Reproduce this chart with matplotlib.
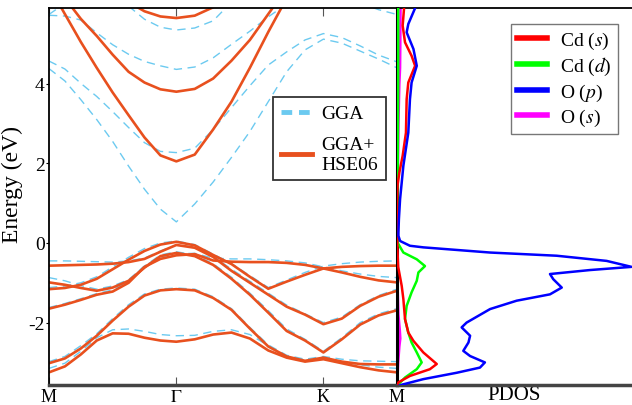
import numpy as np
import matplotlib.pyplot as plt
from matplotlib.lines import Line2D

plt.rcParams['font.family'] = 'serif'
plt.rcParams['font.serif'] = ['Liberation Serif', 'DejaVu Serif']
plt.rcParams['mathtext.fontset'] = 'stix'

nan = np.nan
# high-symmetry points along the path M-Gamma-K-M
hs_k = [0.0, 0.866, 1.866, 2.366]
hs_labels = ['M', r'$\Gamma$', 'K', 'M']
n_seg = [9, 9, 5]  # sample points per segment

# HSE06 bands (eV), one value per k sample
hse_bands = [
    [-1.16, -1.13, -1.05, -0.90, -0.66, -0.42, -0.20, -0.04, 0.03, -0.06, -0.30, -0.53, -0.85, -1.15, -0.97, -0.80, -0.64, -0.60, -0.58, -0.57, -0.57],
    [-0.57, -0.56, -0.55, -0.54, -0.52, -0.48, -0.40, -0.22, -0.05, -0.12, -0.35, -0.70, -1.00, -1.30, -1.60, -1.80, -2.04, -1.90, -1.58, -1.35, -1.20],
    [-0.99, -1.05, -1.13, -1.20, -1.12, -0.95, -0.62, -0.33, -0.25, -0.33, -0.55, -0.90, -1.30, -1.75, -2.21, -2.45, -2.75, -2.42, -2.05, -1.82, -1.69],
    [-1.65, -1.55, -1.43, -1.30, -1.22, -1.00, -0.60, -0.40, -0.31, -0.28, -0.44, -0.47, -0.48, -0.48, -0.50, -0.55, -0.64, -0.74, -0.85, -0.94, -0.99],
    [-3.02, -2.90, -2.65, -2.33, -1.95, -1.60, -1.32, -1.19, -1.16, -1.19, -1.38, -1.68, -2.15, -2.60, -2.85, -2.96, -2.88, -2.98, -3.04, -3.05, -3.05],
    [-3.25, -3.10, -2.80, -2.45, -2.27, -2.28, -2.38, -2.45, -2.48, -2.42, -2.30, -2.25, -2.40, -2.70, -2.88, -2.98, -2.92, -3.02, -3.12, -3.20, -3.25],
    [6.45, 5.75, 5.05, 4.40, 3.78, 3.21, 2.65, 2.20, 2.05, 2.22, 2.85, 3.55, 4.40, 5.30, 6.15, nan, nan, nan, nan, nan, nan],
    [nan, 6.15, 5.63, 5.20, 4.73, 4.30, 4.03, 3.86, 3.80, 3.87, 4.13, 4.58, 5.10, 5.75, 6.40, nan, nan, nan, nan, nan, nan],
    [nan, nan, nan, nan, nan, 6.05, 5.82, 5.69, 5.65, 5.71, 5.92, 6.20, nan, nan, nan, nan, nan, nan, nan, nan, nan],
]

# GGA bands (eV)
gga_bands = [
    [-1.12, -1.08, -1.00, -0.85, -0.60, -0.36, -0.14, 0.00, 0.05, -0.04, -0.28, -0.52, -0.82, -1.12, -0.93, -0.74, -0.58, -0.52, -0.48, -0.46, -0.45],
    [-0.45, -0.45, -0.46, -0.47, -0.48, -0.45, -0.38, -0.20, -0.05, -0.10, -0.33, -0.66, -0.96, -1.26, -1.56, -1.78, -2.00, -1.86, -1.55, -1.32, -1.16],
    [-0.87, -0.95, -1.07, -1.16, -1.08, -0.92, -0.58, -0.30, -0.22, -0.30, -0.52, -0.86, -1.26, -1.70, -2.16, -2.42, -2.72, -2.38, -2.00, -1.78, -1.65],
    [-1.62, -1.52, -1.40, -1.27, -1.18, -0.96, -0.57, -0.36, -0.27, -0.26, -0.38, -0.40, -0.40, -0.42, -0.45, -0.50, -0.60, -0.70, -0.78, -0.84, -0.87],
    [-2.98, -2.85, -2.58, -2.28, -1.90, -1.55, -1.28, -1.16, -1.13, -1.16, -1.35, -1.65, -2.12, -2.56, -2.82, -2.92, -2.85, -2.92, -2.96, -2.97, -2.98],
    [-3.15, -3.02, -2.72, -2.38, -2.18, -2.16, -2.22, -2.30, -2.33, -2.32, -2.22, -2.18, -2.30, -2.58, -2.85, -2.96, -2.88, -2.98, -3.06, -3.12, -3.15],
    [4.38, 4.07, 3.60, 3.10, 2.55, 1.93, 1.35, 0.85, 0.53, 0.98, 1.53, 2.15, 2.80, 3.55, 4.30, 4.85, 5.12, 5.02, 4.82, 4.62, 4.40],
    [4.57, 4.37, 4.01, 3.68, 3.30, 2.90, 2.52, 2.30, 2.27, 2.38, 2.85, 3.40, 3.95, 4.47, 4.80, 5.10, 5.26, 5.16, 4.95, 4.72, 4.55],
    [5.72, 5.70, 5.60, 5.28, 4.98, 4.74, 4.56, 4.45, 4.36, 4.42, 4.65, 4.99, 5.32, 5.68, 6.00, nan, nan, nan, nan, nan, nan],
    [nan, nan, nan, nan, nan, 5.95, 5.62, 5.42, 5.35, 5.40, 5.58, 6.05, nan, nan, nan, nan, nan, nan, nan, nan, nan],
    [5.74, 6.02, nan, nan, nan, nan, nan, nan, nan, nan, nan, nan, nan, nan, nan, nan, nan, nan, 6.03, 5.86, 5.74],
]

# PDOS (arb. units) vs energy (eV)
cds_E = [5.90, 5.46, 5.04, 4.70, 4.45, 4.03, 3.61, 2.77, 2.19, 1.77, 1.44, 1.0, 0.3, -0.2, -0.6, -1.08, -1.41, -1.91, -2.25, -2.46, -2.75, -3.04, -3.17, -3.34, -3.50, -3.60]
cds_v = [0.30, 0.24, 0.34, 0.62, 0.77, 0.48, 0.41, 0.38, 0.24, 0.10, 0.02, 0.0, 0.0, 0.02, 0.05, 0.20, 0.27, 0.34, 0.48, 0.70, 1.12, 1.69, 1.40, 0.55, 0.06, 0.0]
cdd_E = [5.90, 4.0, 2.0, 0.3, 0.0, -0.07, -0.24, -0.41, -0.58, -0.74, -0.95, -1.24, -1.58, -1.91, -2.25, -2.50, -2.75, -3.00, -3.17, -3.38, -3.55, -3.60]
cdd_v = [0.05, 0.05, 0.03, 0.0, 0.03, 0.10, 0.27, 0.84, 1.19, 0.91, 0.84, 0.62, 0.41, 0.34, 0.48, 0.62, 0.84, 1.05, 0.84, 0.34, 0.06, 0.0]
op_E = [5.90, 5.50, 5.29, 4.87, 4.45, 4.03, 3.61, 2.77, 1.94, 1.10, 0.60, 0.26, 0.18, 0.05, -0.07, -0.11, -0.24, -0.32, -0.45, -0.60, -0.68, -0.78, -0.91, -1.12, -1.29, -1.45, -1.66, -2.00, -2.12, -2.33, -2.50, -2.71, -2.84, -3.00, -3.13, -3.26, -3.42, -3.55, -3.60]
op_v = [0.77, 0.48, 0.41, 0.70, 0.84, 0.62, 0.55, 0.48, 0.27, 0.13, 0.08, 0.06, 0.06, 0.13, 0.55, 1.12, 3.96, 6.79, 8.92, 9.98, 8.21, 6.51, 6.65, 7.01, 6.51, 5.09, 3.96, 2.96, 2.75, 3.11, 3.04, 2.82, 3.11, 3.74, 3.53, 2.54, 1.12, 0.27, 0.0]
os_E = [5.90, 5.0, 4.4, 4.0, 3.0, 1.0, 0.0, -1.0, -1.8, -2.2, -2.4, -2.6, -3.0, -3.4, -3.6]
os_v = [0.15, 0.14, 0.13, 0.10, 0.06, 0.02, 0.0, 0.02, 0.06, 0.12, 0.14, 0.10, 0.05, 0.02, 0.0]

c_hse = '#e8501e'
c_gga = '#6ccaf0'
ylim = (-3.57, 5.9)

# k grid
k = [np.linspace(hs_k[0], hs_k[1], n_seg[0])]
for i in range(1, 3):
    k.append(np.linspace(hs_k[i], hs_k[i+1], n_seg[i])[1:])
k = np.concatenate(k)

fig = plt.figure(figsize=(6.32, 4.06), dpi=100)
ax = fig.add_axes([0.0775, 0.049, 0.5506, 0.9286])
ax2 = fig.add_axes([0.6282, 0.049, 0.3718, 0.9286])

for b in gga_bands:
    ax.plot(k, b, color=c_gga, lw=1.0, dashes=(6, 4))
for b in hse_bands:
    ax.plot(k, b, color=c_hse, lw=1.9)

ax.set_xlim(hs_k[0], hs_k[-1])
ax.set_ylim(ylim)
ax.set_xticks(hs_k)
ax.set_xticklabels(hs_labels, fontsize=13)
ax.set_yticks([-2, 0, 2, 4])
ax.set_yticklabels(['-2', '0', '2', '4'], fontsize=14)
ax.tick_params(axis='x', direction='in', top=True, length=6, width=0.8, color='#555555', pad=2)
ax.tick_params(axis='y', direction='out', length=2, width=0.8, pad=1)
ax.set_ylabel('Energy (eV)', fontsize=17)
ax.yaxis.set_label_coords(-0.075, 0.535)
for s in ['left', 'top', 'right']:
    ax.spines[s].set_linewidth(1.3)
ax.spines['bottom'].set_linewidth(2.5)
ax.spines['bottom'].set_color('#444444')
ax.spines['right'].set_visible(False)

h = [Line2D([], [], color=c_gga, lw=3.5, dashes=(2.2, 1.4)),
     Line2D([], [], color=c_hse, lw=3.5)]
leg = ax.legend(h, ['GGA', 'GGA+\nHSE06'], loc='upper right', bbox_to_anchor=(0.968, 0.764),
                borderaxespad=0, fontsize=14, frameon=True, fancybox=False, edgecolor='black',
                handlelength=1.6, handletextpad=0.5, borderpad=0.4, labelspacing=0.7)
leg.get_frame().set_linewidth(1.3)

# PDOS panel
ax2.plot(os_v, os_E, color='#ff00ff', lw=1.8, label='O ($s$)', zorder=2)
ax2.plot(cdd_v, cdd_E, color='#00ff00', lw=1.8, label='Cd ($d$)', zorder=3)
ax2.plot(cds_v, cds_E, color='#ff0000', lw=1.8, label='Cd ($s$)', zorder=4)
ax2.plot(op_v, op_E, color='#0000ff', lw=1.8, label='O ($p$)', zorder=5)
ax2.set_xlim(0, 10)
ax2.set_ylim(ylim)
ax2.set_xticks([])
ax2.set_yticks([])
ax2.set_xlabel('PDOS', fontsize=15, labelpad=0)
ax2.spines['left'].set_linewidth(2.2)
ax2.spines['left'].set_color('black')
ax2.spines['top'].set_linewidth(1.3)
ax2.spines['bottom'].set_linewidth(2.5)
ax2.spines['bottom'].set_color('#444444')
ax2.spines['right'].set_visible(False)

hd, lb = ax2.get_legend_handles_labels()
order = [2, 1, 3, 0]
leg2 = ax2.legend([hd[i] for i in order], [lb[i] for i in order], loc='upper right',
                  bbox_to_anchor=(0.94, 0.958), borderaxespad=0, fontsize=14, frameon=True,
                  fancybox=False, edgecolor='#555555', handlelength=1.55, handletextpad=0.7,
                  borderpad=0.3, labelspacing=0.22)
leg2.get_frame().set_linewidth(1.0)
for l in leg2.get_lines():
    l.set_linewidth(4)

plt.savefig('out.png', dpi=100)
